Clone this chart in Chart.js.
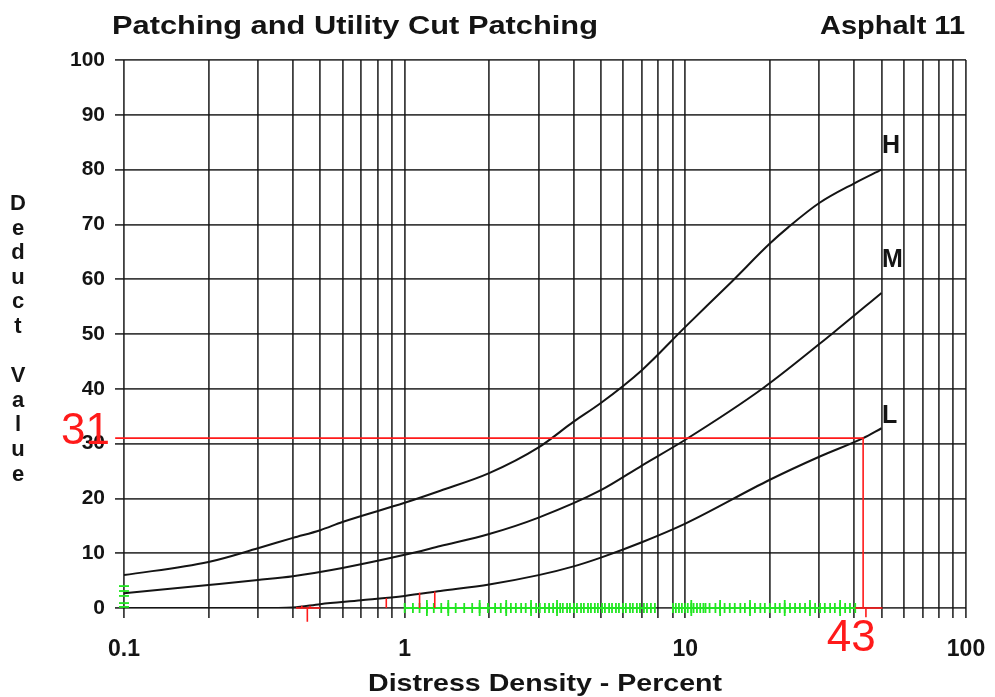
<!DOCTYPE html>
<html>
<head>
<meta charset="utf-8">
<title>Patching and Utility Cut Patching</title>
<script src="https://cdn.jsdelivr.net/npm/chart.js@4.4.1/dist/chart.umd.min.js"></script>
<style>
    html, body { margin: 0; padding: 0; background: #fff; }
    #wrap { width: 995px; height: 697px; position: relative; }
</style>
</head>
<body>
<div id="wrap"><canvas id="deductChart" width="995" height="697"></canvas></div>
<script>
// axis values
const xTickLabels = ['0.1', '1', '10', '100'];
const xGridValues = [0.1, 0.2, 0.3, 0.4, 0.5, 0.6, 0.7, 0.8, 0.9,
    1, 2, 3, 4, 5, 6, 7, 8, 9,
    10, 20, 30, 40, 50, 60, 70, 80, 90, 100];
const yTickLabels = ['0', '10', '20', '30', '40', '50', '60', '70', '80', '90', '100'];

// severity curves (distress density %, deduct value)
const densityH = [0.1, 0.2, 0.3, 0.4, 0.5, 0.6, 1, 1.34, 2, 3, 4, 5, 7, 10, 14.6, 20, 23.3, 30, 40, 50];
const deductH = [6.0, 8.4, 10.9, 12.8, 14.2, 15.7, 19.2, 21.4, 24.6, 29.3, 34.0, 37.4, 43.4, 51.3, 59.5, 66.5, 69.5, 73.9, 77.5, 80];
const densityM = [0.1, 0.2, 0.3, 0.4, 0.6, 1, 1.34, 2, 3, 5, 7, 10, 18.9, 33.6, 50];
const deductM = [2.7, 4.2, 5.1, 5.8, 7.3, 9.7, 11.3, 13.5, 16.5, 21.5, 26.0, 30.7, 40.1, 50.2, 57.5];
const densityL = [0.1, 0.3, 0.4, 0.5, 0.7, 1, 1.34, 2, 3, 4, 5, 7, 10, 20, 30, 43, 50];
const deductL = [0, 0, 0.1, 0.7, 1.4, 2.2, 3.1, 4.3, 6.0, 7.6, 9.2, 12.0, 15.4, 23.4, 27.6, 31, 32.8];
const curveNames = ['H', 'M', 'L'];

// green rug of observed densities along the zero line
const rugDensity = [1.00, 1.07, 1.13, 1.20, 1.27, 1.35, 1.43, 1.52, 1.63, 1.74, 1.85, 1.98,
    2.10, 2.20, 2.30, 2.39, 2.49, 2.60, 2.70, 2.82, 2.94, 3.03, 3.16, 3.27, 3.38, 3.49,
    3.58, 3.66, 3.79, 3.88, 4.01, 4.11, 4.25, 4.35, 4.50, 4.61, 4.76, 4.88, 5.05, 5.17,
    5.35, 5.48, 5.66, 5.80, 6.00, 6.14, 6.35, 6.50, 6.72, 6.89, 7.12, 7.30, 7.54, 7.79,
    9.03, 9.25, 9.49, 9.72, 9.98, 10.2, 10.5, 10.7, 11.0, 11.3, 11.6, 11.8,
    12.2, 12.8, 13.3, 13.8, 14.4, 15.0, 15.7, 16.3, 17.0, 17.7, 18.5, 19.2, 20.0,
    20.9, 21.7, 22.6, 23.6, 24.6, 25.6, 26.7, 27.8, 29.0, 30.2, 31.4, 32.8, 34.1,
    35.6, 37.1, 38.6, 40.3];
// longer rug ticks
const rugDensityTall = [1.20, 1.43, 1.85, 2.30, 2.82, 3.49, 10.5, 13.3, 17.0, 22.6, 27.8, 35.6];
// green rug of deduct values at the left edge
const rugDeduct = [0.2, 0.9, 2.2, 3.1, 4.0];

// red reading: density 43 -> deduct 31
const readDensity = 43;
const readDeduct = 31;
const guideX = [0.093, readDensity, readDensity];
const guideY = [readDeduct, readDeduct, 0];
// red marks near the zero line, one segment per entry
const markX1 = [0.41, 0.45, 0.43, 0.46, 0.86, 1.13, 1.28, 40.3, 44];
const markY1 = [0, 0, 0, 0, 0, 0, 0, 0, 0];
const markX2 = [0.5, 0.45, 0.43, 0.46, 0.86, 1.13, 1.28, 50.4, 44];
const markY2 = [0, -2.5, 0.4, 0.4, 1.8, 2.8, 3.0, 0, -1.7];

const INK = '#141414';
const GRID = 'rgba(20,20,20,0.82)';
const RED = '#ff1a1a';
const GREEN = '#22e622';
const FONT = "'Liberation Sans', Arial, sans-serif";

function toPoints(xs, ys) {
    return xs.map((x, i) => ({ x, y: ys[i] }));
}

function fitText(ctx, text, x, y, width, font, color) {
    ctx.save();
    ctx.font = font;
    ctx.fillStyle = color;
    ctx.textAlign = 'left';
    ctx.textBaseline = 'alphabetic';
    const w = ctx.measureText(text).width;
    ctx.translate(x, y);
    ctx.scale(width / w, 1);
    ctx.fillText(text, 0, 0);
    ctx.restore();
}

const textPlugin = {
    id: 'textPlugin',
    beforeDraw(chart) {
        const ctx = chart.ctx;
        ctx.save();
        ctx.fillStyle = '#fff';
        ctx.fillRect(0, 0, chart.width, chart.height);
        ctx.restore();
    },
    afterDraw(chart) {
        const ctx = chart.ctx;
        fitText(ctx, 'Patching and Utility Cut Patching', 112, 34, 486, 'bold 26px ' + FONT, INK);
        fitText(ctx, 'Asphalt 11', 820, 34, 145, 'bold 26px ' + FONT, INK);
        fitText(ctx, 'Distress Density - Percent', 368, 691, 354, 'bold 24px ' + FONT, INK);

        // stacked y title
        const letters = 'Deduct Value'.split('');
        ctx.save();
        ctx.font = 'bold 22px ' + FONT;
        ctx.fillStyle = INK;
        ctx.textAlign = 'center';
        ctx.textBaseline = 'alphabetic';
        letters.forEach((ch, i) => {
            if (ch !== ' ') ctx.fillText(ch, 18, 210 + i * 24.6);
        });
        ctx.restore();

        // curve labels
        ctx.save();
        ctx.font = 'bold 25px ' + FONT;
        ctx.fillStyle = INK;
        ctx.textAlign = 'left';
        ctx.fillText(curveNames[0], 882, 153);
        ctx.fillText(curveNames[1], 882, 267);
        ctx.fillText(curveNames[2], 882, 423);
        ctx.restore();

        // red reading numbers
        const xs = chart.scales.x;
        const ys = chart.scales.y;
        ctx.save();
        ctx.font = '44px ' + FONT;
        ctx.fillStyle = RED;
        ctx.textAlign = 'right';
        ctx.textBaseline = 'alphabetic';
        ctx.fillText(String(readDeduct), 110, ys.getPixelForValue(readDeduct) + 6);
        ctx.textAlign = 'center';
        ctx.fillText(String(readDensity), xs.getPixelForValue(readDensity) - 12, 651);
        ctx.restore();
    }
};

function curve(label, xs, ys) {
    return {
        label,
        type: 'line',
        data: toPoints(xs, ys),
        borderColor: INK,
        borderWidth: 2,
        pointRadius: 0,
        fill: false,
        cubicInterpolationMode: 'monotone',
        order: 3
    };
}

function redLine(label, xs, ys) {
    return {
        label,
        type: 'line',
        data: toPoints(xs, ys),
        borderColor: RED,
        borderWidth: 1.6,
        pointRadius: 0,
        tension: 0,
        clip: false,
        order: 1
    };
}

function rugTicks(label, xs, radius) {
    return {
        label,
        type: 'scatter',
        data: xs.map(x => ({ x, y: 0 })),
        pointStyle: 'line',
        rotation: 90,
        radius,
        borderColor: GREEN,
        borderWidth: 1.8,
        clip: false,
        order: 2
    };
}

const datasets = [
    curve('H', densityH, deductH),
    curve('M', densityM, deductM),
    curve('L', densityL, deductL),
    rugTicks('rug density', rugDensity, 5),
    rugTicks('rug density tall', rugDensityTall, 8),
    {
        label: 'rug base 1',
        type: 'line',
        data: [{ x: rugDensity[0], y: 0 }, { x: 7.79, y: 0 }],
        borderColor: GREEN, borderWidth: 1.8, pointRadius: 0, clip: false, order: 2
    },
    {
        label: 'rug base 2',
        type: 'line',
        data: [{ x: 9.03, y: 0 }, { x: rugDensity[rugDensity.length - 1], y: 0 }],
        borderColor: GREEN, borderWidth: 1.8, pointRadius: 0, clip: false, order: 2
    },
    {
        label: 'rug deduct',
        type: 'scatter',
        data: rugDeduct.map(y => ({ x: 0.1, y })),
        pointStyle: 'line',
        radius: 5,
        borderColor: GREEN,
        borderWidth: 1.8,
        clip: false,
        order: 2
    },
    redLine('guide', guideX, guideY)
];
markX1.forEach((x, i) => {
    datasets.push(redLine('mark ' + i, [x, markX2[i]], [markY1[i], markY2[i]]));
});

new Chart(document.getElementById('deductChart'), {
    type: 'line',
    data: { datasets },
    options: {
        responsive: false,
        animation: false,
        events: [],
        layout: { autoPadding: false, padding: { top: 60, right: 29, left: 0, bottom: 0 } },
        plugins: {
            legend: { display: false },
            tooltip: { enabled: false },
            title: { display: false }
        },
        scales: {
            x: {
                type: 'logarithmic',
                min: 0.1,
                max: 100,
                afterBuildTicks: (scale) => {
                    scale.ticks = xGridValues.map(v => ({ value: v }));
                },
                afterFit: (scale) => {
                    scale.height = 697 - 608;
                    scale.paddingLeft = 0;
                    scale.paddingRight = 0;
                },
                ticks: {
                    autoSkip: false,
                    maxRotation: 0,
                    padding: 18,
                    color: INK,
                    font: { family: FONT, size: 23, weight: 'bold' },
                    callback: (v) => {
                        const lbl = xTickLabels.find(t => Number(t) === v);
                        return lbl === undefined ? '' : lbl;
                    }
                },
                grid: { color: GRID, lineWidth: 1.8, tickLength: 10, tickColor: GRID },
                border: { display: false }
            },
            y: {
                type: 'linear',
                min: 0,
                max: 100,
                afterBuildTicks: (scale) => {
                    scale.ticks = yTickLabels.map(t => ({ value: Number(t) }));
                },
                afterFit: (scale) => {
                    scale.width = 124;
                    scale.paddingTop = 0;
                    scale.paddingBottom = 0;
                },
                ticks: {
                    padding: 10,
                    color: INK,
                    font: { family: FONT, size: 21, weight: 'bold' }
                },
                grid: { color: GRID, lineWidth: 1.8, tickLength: 9, tickColor: GRID },
                border: { display: false }
            }
        }
    },
    plugins: [textPlugin]
});
</script>
</body>
</html>
